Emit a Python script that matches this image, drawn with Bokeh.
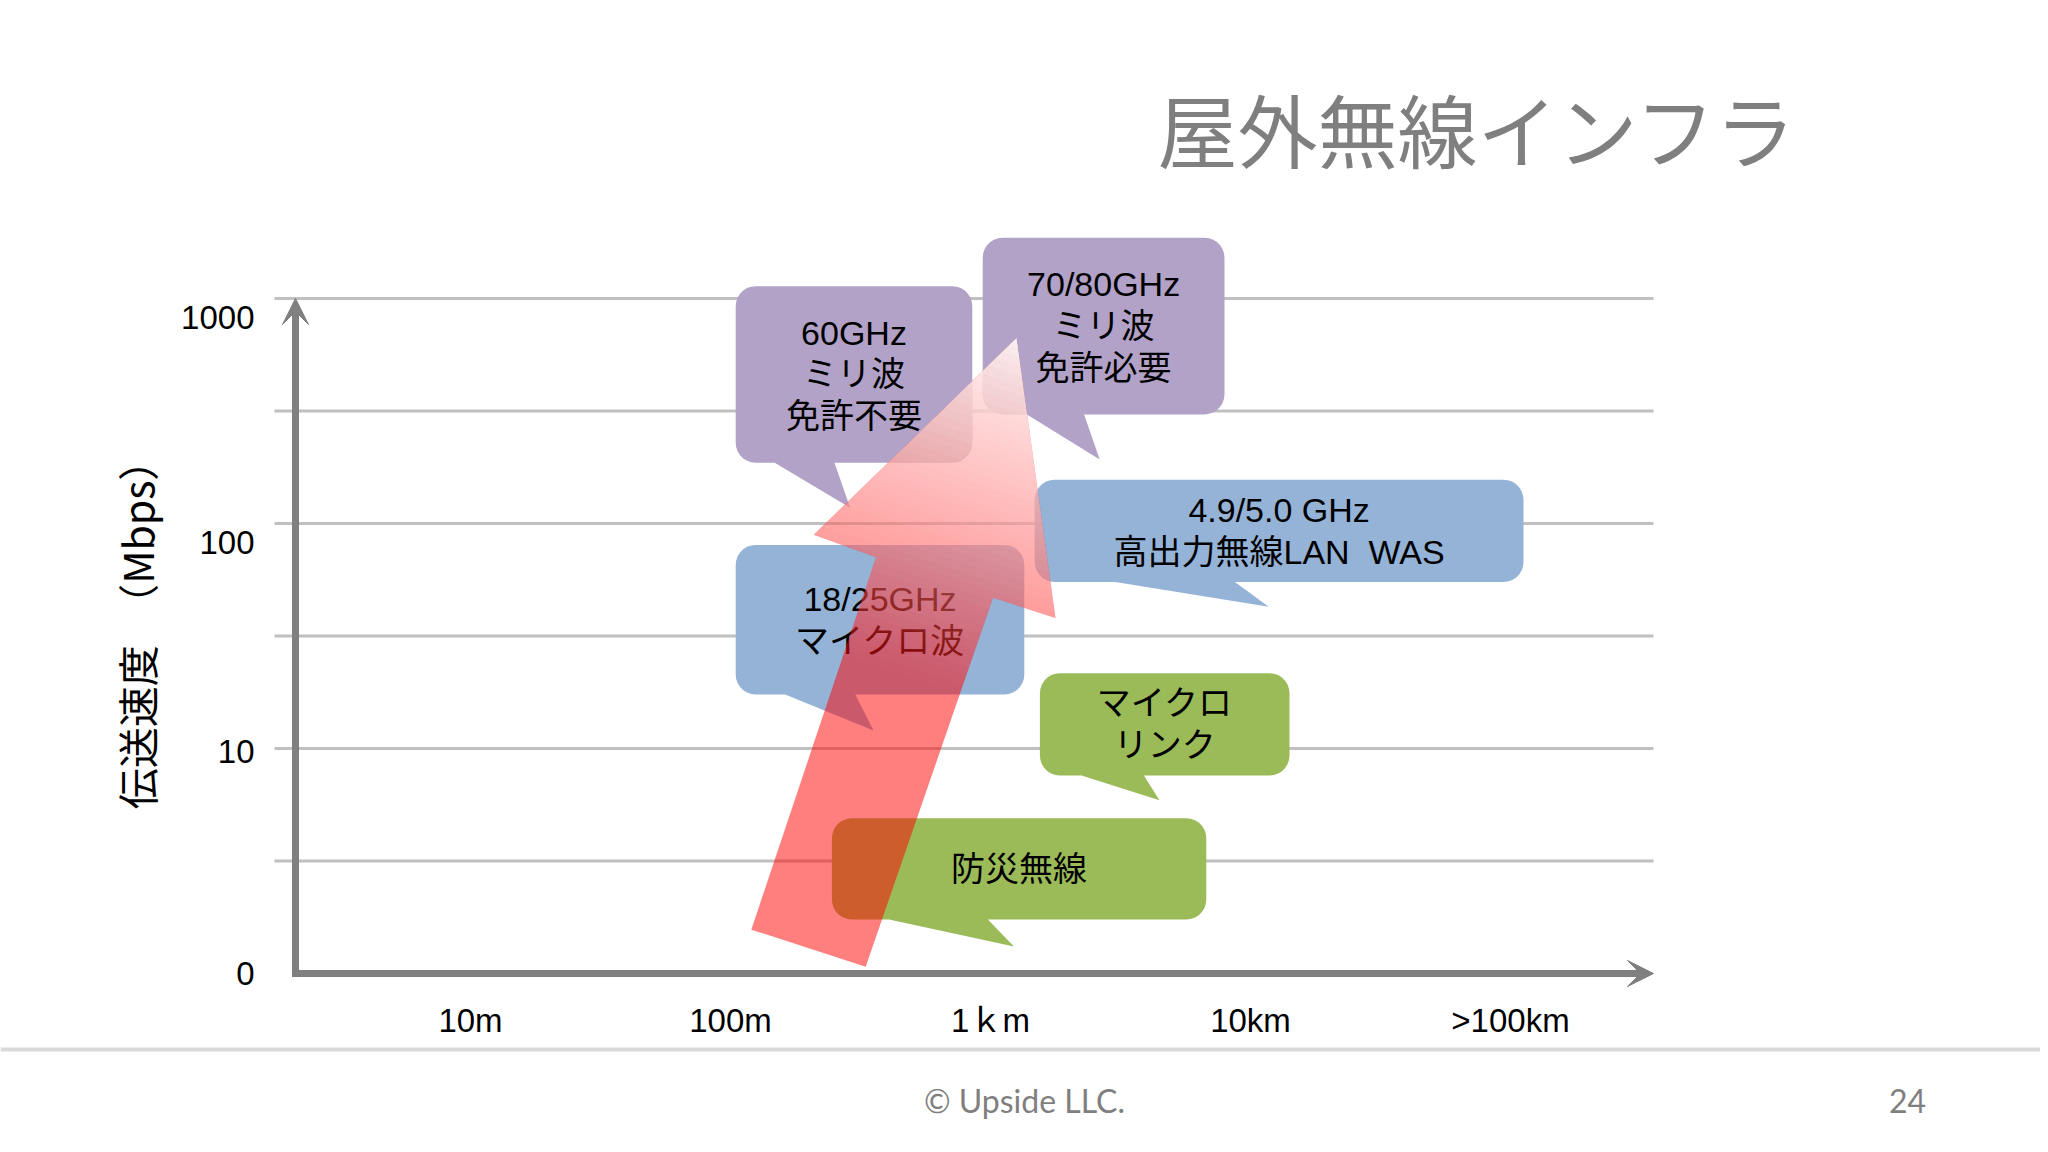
import numpy as np
from bokeh.plotting import figure
from bokeh.models import Label, Arrow, VeeHead, Range1d
from bokeh.core.properties import value
from bokeh.embed import file_html
from bokeh.resources import INLINE

# ---------------- data ----------------
title_text = "屋外無線インフラ"
y_axis_title = "伝送速度　（Mbps）"
distance_labels = ["10m", "100m", "1ｋm", "10km", ">100km"]
distance_pos = [1, 2, 3, 4, 5]
speed_labels = ["0", "10", "100", "1000"]
speed_label_pos = [0, 1.97, 3.83, 5.83]
speed_grid = [1, 2, 3, 4, 5, 6]

bubble_text = ["60GHz\nミリ波\n免許不要",
               "70/80GHz\nミリ波\n免許必要",
               "4.9/5.0 GHz\n高出力無線LAN\u00a0\u00a0WAS",
               "18/25GHz\nマイクロ波",
               "マイクロ\nリンク",
               "防災無線"]
bubble_dist_lo = [2.02, 2.97, 3.17, 2.02, 3.19, 2.39]
bubble_dist_hi = [2.93, 3.90, 5.05, 3.13, 4.15, 3.83]
bubble_speed_lo = [4.54, 4.97, 3.48, 2.48, 1.76, 0.48]
bubble_speed_hi = [6.11, 6.54, 4.39, 3.81, 2.67, 1.38]
tail_dist_a = [2.17, 3.14, 3.48, 2.21, 3.35, 2.61]
tail_dist_b = [2.40, 3.36, 3.94, 2.48, 3.59, 2.99]
tail_tip_dist = [2.46, 3.42, 4.07, 2.55, 3.65, 3.09]
tail_tip_speed = [4.14, 4.57, 3.26, 2.16, 1.54, 0.24]
bubble_colors = ["#B2A2C7", "#B2A2C7", "#95B3D7", "#95B3D7", "#9BBB59", "#9BBB59"]

# trend arrow outline (distance, speed)
trend_x = [2.08, 2.56, 2.32, 3.10, 3.25, 3.01, 2.52]
trend_y = [0.39, 3.70, 3.90, 5.65, 3.16, 3.34, 0.06]

footer_text = "© Upside LLC."
page_number = "24"

# ---------------- figure (frame = whole canvas) ----------------
W, H = 2040, 1140
PX_X, PX_Y = 260.0, 112.5          # pixels per data unit
X0_PX, Y0_PX = 470.0, 973.0        # canvas position of distance=1 / speed=0


def dx(px):
    return 1 + (px - X0_PX) / PX_X


def dy(py):
    return (Y0_PX - py) / PX_Y


p = figure(width=W, height=H, output_backend="svg", toolbar_location=None,
           x_axis_location=None, y_axis_location=None,
           x_range=Range1d(dx(0), dx(W)), y_range=Range1d(dy(H), dy(0)),
           min_border=0)
p.title.visible = False
p.grid.visible = False
p.outline_line_color = None
p.background_fill_color = "white"
p.border_fill_color = "white"

latin_cjk = "Liberation Sans, Noto Sans CJK JP"
grid_left, grid_right = dx(274), dx(1653)
axis_x = dx(295)

# horizontal grid lines
p.segment(x0=[grid_left] * len(speed_grid), x1=[grid_right] * len(speed_grid),
          y0=speed_grid, y1=speed_grid, line_color="#C0C0C0", line_width=3)

# tick labels
p.text(x=distance_pos, y=[dy(1020)] * len(distance_pos), text=distance_labels,
       text_align="center", text_baseline="middle", text_font=value(latin_cjk),
       text_font_size="33px", text_color="black")
p.text(x=[dx(254)] * len(speed_labels), y=speed_label_pos, text=speed_labels,
       text_align="right", text_baseline="middle", text_font=value(latin_cjk),
       text_font_size="33px", text_color="black")

# axis arrows
grey = "#808080"
p.add_layout(Arrow(end=VeeHead(size=26, fill_color=grey, line_color=grey),
                   x_start=axis_x, y_start=0, x_end=axis_x, y_end=speed_grid[-1],
                   line_width=7, line_color=grey))
p.add_layout(Arrow(end=VeeHead(size=26, fill_color=grey, line_color=grey),
                   x_start=axis_x - 3.5 / PX_X, y_start=0, x_end=grid_right, y_end=0,
                   line_width=7, line_color=grey))

# ---------------- bubbles ----------------
r_px = 20
rx, ry = r_px / PX_X, r_px / PX_Y


def arc(cx, cy, a0, a1, n=8):
    a = np.linspace(np.radians(a0), np.radians(a1), n)
    return list(cx + rx * np.cos(a)), list(cy + ry * np.sin(a))


bx, by = [], []
for i in range(len(bubble_text)):
    x0, x1 = bubble_dist_lo[i], bubble_dist_hi[i]
    y0, y1 = bubble_speed_lo[i], bubble_speed_hi[i]
    xs, ys = [], []
    for (cx, cy, a0, a1) in [(x1 - rx, y1 - ry, 90, 0), (x1 - rx, y0 + ry, 0, -90)]:
        ax, ay = arc(cx, cy, a0, a1)
        xs += ax; ys += ay
    xs += [tail_dist_b[i], tail_tip_dist[i], tail_dist_a[i]]
    ys += [y0, tail_tip_speed[i], y0]
    for (cx, cy, a0, a1) in [(x0 + rx, y0 + ry, -90, -180), (x0 + rx, y1 - ry, 180, 90)]:
        ax, ay = arc(cx, cy, a0, a1)
        xs += ax; ys += ay
    bx.append(xs); by.append(ys)

p.patches(xs=bx, ys=by, fill_color=bubble_colors, line_color=None)

cx = [(a + b) / 2 for a, b in zip(bubble_dist_lo, bubble_dist_hi)]
cy = [(a + b) / 2 for a, b in zip(bubble_speed_lo, bubble_speed_hi)]
p.text(x=cx, y=cy, text=bubble_text, text_align="center", text_baseline="middle",
       text_font=value(latin_cjk), text_font_size="34px", text_color="black",
       text_line_height=1.1)

# ---------------- trend arrow with gradient ----------------
poly = list(zip(trend_x, trend_y))
B = np.array(poly[0]); E = np.array(poly[-1]); T = np.array(poly[3])
d = E - B


def cross(u, v):
    return u[0] * v[1] - u[1] * v[0]


norm = cross(d, T - B)


def tpar(P):
    return cross(d, np.array(P) - B) / norm


def clip(poly, t0):
    out = []
    n = len(poly)
    for i in range(n):
        P, Q = poly[i], poly[(i + 1) % n]
        fp, fq = tpar(P) - t0, tpar(Q) - t0
        if fp >= 0:
            out.append(P)
        if (fp >= 0) != (fq >= 0):
            s = fp / (fp - fq)
            out.append((P[0] + s * (Q[0] - P[0]), P[1] + s * (Q[1] - P[1])))
    return out


p.patch(x=trend_x, y=trend_y, fill_color="#FF0000", fill_alpha=0.5, line_color=None)

N = 40
t_start = 0.45
lx, ly, la = [], [], []
prev_r = 1.0
for k in range(N):
    tk = t_start + (1 - t_start) * k / N
    tm = tk + (1 - t_start) / N / 2
    r = 1 - 0.93 * (tm - t_start) / (1 - t_start)
    w = 1 - r / prev_r
    prev_r = r
    c = clip(poly, tk)
    if len(c) >= 3:
        lx.append([q[0] for q in c]); ly.append([q[1] for q in c]); la.append(w)
p.patches(xs=lx, ys=ly, fill_color="white", fill_alpha=la, line_color=None)

# ---------------- title, axis title, footer ----------------
p.add_layout(Label(x=dx(1477), y=dy(126), text=title_text,
                   text_align="center", text_baseline="middle", text_font_size="80px",
                   text_color="#7F7F7F", text_font="Noto Sans CJK JP"))
p.add_layout(Label(x=dx(135), y=dy(624), text=y_axis_title,
                   angle=np.pi / 2, text_align="center", text_baseline="middle",
                   text_font_size="41px", text_color="black", text_font="Noto Sans CJK JP"))

p.segment(x0=[dx(0)], x1=[dx(W)], y0=[dy(1049)], y1=[dy(1049)],
          line_color="#D9D9D9", line_width=4)
p.add_layout(Label(x=dx(1024), y=dy(1100), text=footer_text,
                   text_align="center", text_baseline="middle", text_font_size="32px",
                   text_color="#7F7F7F", text_font="Lato"))
p.add_layout(Label(x=dx(1907), y=dy(1100), text=page_number,
                   text_align="center", text_baseline="middle", text_font_size="32px",
                   text_color="#7F7F7F", text_font="Lato"))

open("out.html", "w").write(file_html(p, INLINE))
